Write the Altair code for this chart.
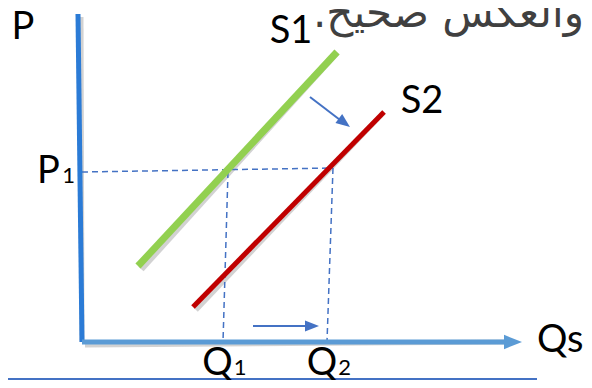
import altair as alt
import pandas as pd

# ---- values (units: quantity right of origin, price above origin) ----
supply_names = ["S1", "S2"]
supply_q_low = [56, 111]
supply_p_low = [76, 35]
supply_q_high = [255, 302]
supply_p_high = [290, 230]
supply_colors = ["#92D050", "#C00000"]
supply_widths = [7, 5]

price_p1_left, price_p1_right = 170, 174
q1_top, q1_bottom = 146, 141
q2_top, q2_bottom = 251, 245

p_axis_q = [-4, 0]
p_axis_p = [328, 0]
q_axis_q = [0, 424]
q_axis_p = [0, 0]
q_axis_head_q = [431]
q_axis_head_p = [0]

rule_q = [-82, 455]
rule_p = [-37, -37]

shift_q_start = [228, 171]
shift_p_start = [245, 16]
shift_q_end = [262, 224]
shift_p_end = [219, 16]
shift_head_q = [262.4, 230]
shift_head_p = [219.2, 16]
shift_head_angle = [37, 0]

main_labels = ["P", "S1", "S2", "P", "Q", "Q"]
main_label_q = [-59, 209, 340, -33.5, 135.5, 240]
main_label_p = [303, 299, 229, 159, -33, -33]

sub_labels = ["1", "1", "2"]
sub_label_q = [-13.5, 158, 262.5]
sub_label_p = [159, -33, -33]

axis_title = ["Qs"]
axis_title_q = [455]
axis_title_p = [-10]

arabic_note = ["والعكس صحيح.\u200F"]
arabic_q = [502]
arabic_p = [315]

# ---- tables ----
solid = pd.DataFrame({
    "q": [p_axis_q[0], q_axis_q[0], supply_q_low[0], supply_q_low[1]],
    "p": [p_axis_p[0], q_axis_p[0], supply_p_low[0], supply_p_low[1]],
    "q2": [p_axis_q[1], q_axis_q[1], supply_q_high[0], supply_q_high[1]],
    "p2": [p_axis_p[1], q_axis_p[1], supply_p_high[0], supply_p_high[1]],
    "color": ["#2B7BD6", "#5B9BD5", supply_colors[0], supply_colors[1]],
    "w": [5, 5, supply_widths[0], supply_widths[1]],
})
dashed = pd.DataFrame({
    "q": [0, q1_top, q2_top],
    "p": [price_p1_left, price_p1_left, price_p1_right],
    "q2": [q2_top, q1_bottom, q2_bottom],
    "p2": [price_p1_right, 0, 0],
})
thin = pd.DataFrame({
    "q": [rule_q[0]] + shift_q_start,
    "p": [rule_p[0]] + shift_p_start,
    "q2": [rule_q[1]] + shift_q_end,
    "p2": [rule_p[1]] + shift_p_end,
})
heads = pd.DataFrame({
    "q": q_axis_head_q + shift_head_q,
    "p": q_axis_head_p + shift_head_p,
    "angle": [0] + shift_head_angle,
    "color": ["#5B9BD5", "#4472C4", "#4472C4"],
    "size": [324, 196, 196],
})
main_df = pd.DataFrame({"t": main_labels, "q": main_label_q, "p": main_label_p})
sub_df = pd.DataFrame({"t": sub_labels, "q": sub_label_q, "p": sub_label_p})
title_df = pd.DataFrame({"t": axis_title, "q": axis_title_q, "p": axis_title_p})
arabic_df = pd.DataFrame({"t": arabic_note, "q": arabic_q, "p": arabic_p})

xs = alt.Scale(domain=[-74, 502], nice=False, zero=False)
ys = alt.Scale(domain=[-38, 334], nice=False, zero=False)
X = lambda f="q": alt.X(f, type="quantitative", scale=xs, axis=None)
Y = lambda f="p": alt.Y(f, type="quantitative", scale=ys, axis=None)

shadow = alt.Chart(solid).mark_rule(color="#7f7f7f", opacity=0.35, xOffset=3, yOffset=3).encode(
    x=X(), y=Y(), x2="q2", y2="p2",
    strokeWidth=alt.StrokeWidth("w:Q", scale=None),
)
solid_l = alt.Chart(solid).mark_rule().encode(
    x=X(), y=Y(), x2="q2", y2="p2",
    color=alt.Color("color:N", scale=None),
    strokeWidth=alt.StrokeWidth("w:Q", scale=None),
)
dashed_l = alt.Chart(dashed).mark_rule(color="#4472C4", strokeWidth=1.5, strokeDash=[6, 4]).encode(
    x=X(), y=Y(), x2="q2", y2="p2",
)
thin_l = alt.Chart(thin).mark_rule(color="#4472C4", strokeWidth=2).encode(
    x=X(), y=Y(), x2="q2", y2="p2",
)
heads_l = alt.Chart(heads).mark_point(
    shape="M1,0L-1,-0.8L-1,0.8Z", filled=True, opacity=1
).encode(
    x=X(), y=Y(),
    angle=alt.Angle("angle:Q", scale=None),
    color=alt.Color("color:N", scale=None),
    size=alt.Size("size:Q", scale=None),
)
font = "Lato"
main_l = alt.Chart(main_df).mark_text(font=font, fontSize=38, align="center", baseline="alphabetic", color="#000000").encode(
    x=X(), y=Y(), text="t:N")
sub_l = alt.Chart(sub_df).mark_text(font=font, fontSize=22, align="center", baseline="alphabetic", color="#000000").encode(
    x=X(), y=Y(), text="t:N")
title_l = alt.Chart(title_df).mark_text(font=font, fontSize=38, align="left", baseline="alphabetic", color="#000000").encode(
    x=X(), y=Y(), text="t:N")
arabic_l = alt.Chart(arabic_df).mark_text(font="DejaVu Sans", fontSize=42, align="right", baseline="alphabetic", color="#404040").encode(
    x=X(), y=Y(), text="t:N")

chart = alt.layer(
    shadow, dashed_l, solid_l, thin_l, heads_l, main_l, sub_l, title_l, arabic_l
).properties(
    width=576, height=372, autosize=alt.AutoSizeParams(type="none"), padding=0
).configure_view(stroke=None)

chart.save("out.html", embed_options={"renderer": "svg", "actions": False})
